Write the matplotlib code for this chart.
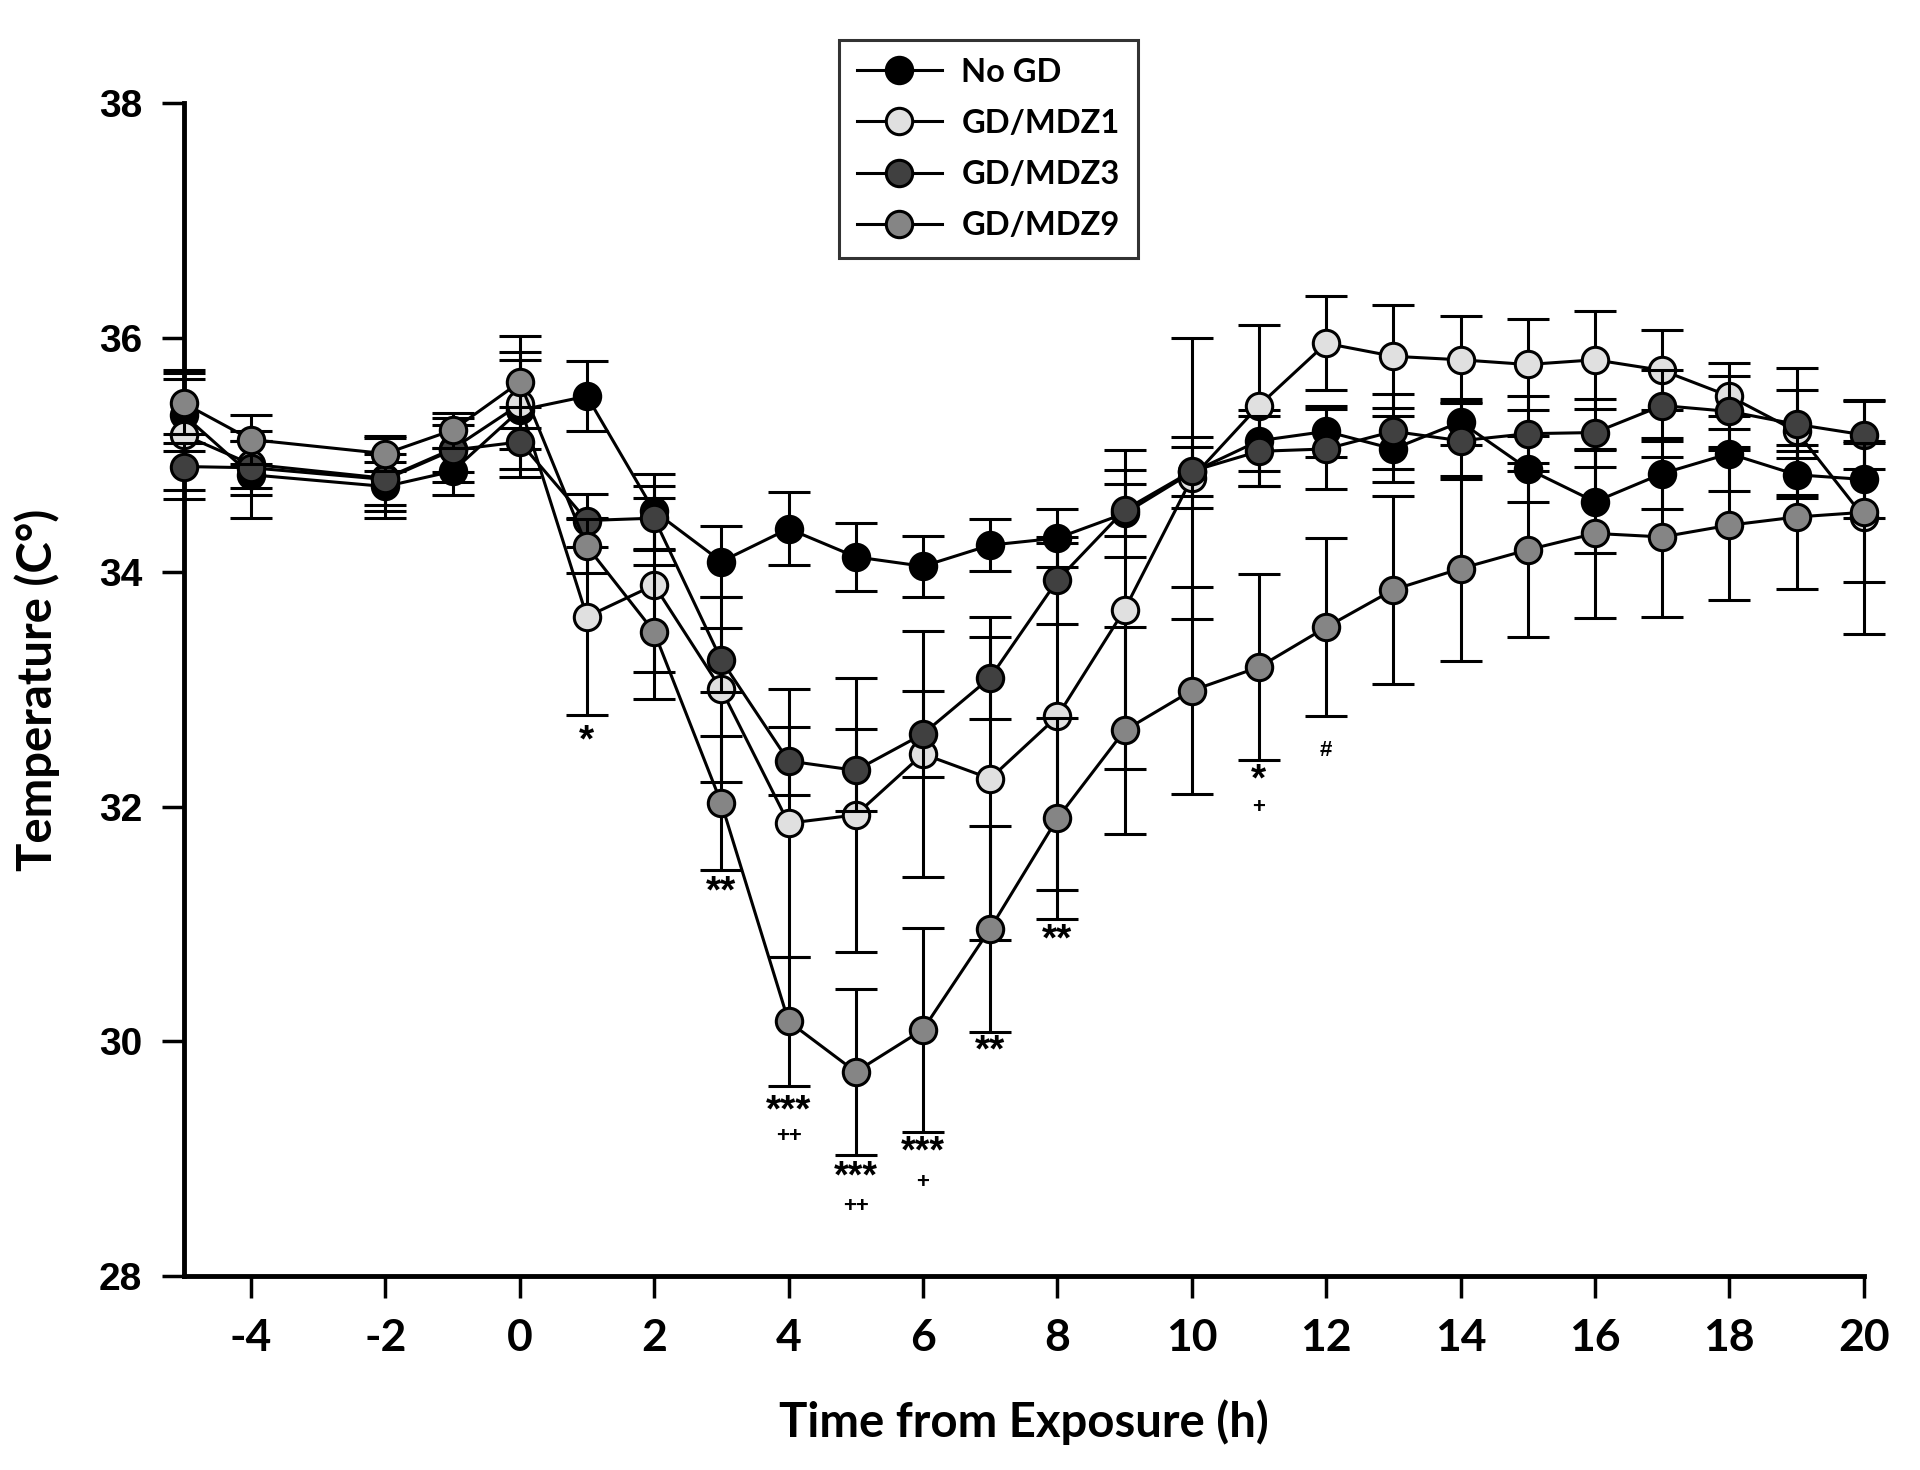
import matplotlib
matplotlib.use("Agg")
import matplotlib.pyplot as plt
import numpy as np

plt.rcParams["axes.unicode_minus"] = False

# time points (h); there is no -3 point in the source
hours = [-5, -4, -2, -1, 0, 1, 2, 3, 4, 5, 6, 7, 8, 9, 10, 11, 12, 13, 14, 15, 16, 17, 18, 19, 20]

no_gd = [35.34, 34.83, 34.73, 34.86, 35.38, 35.50, 34.52, 34.09, 34.37, 34.13, 34.05, 34.23, 34.29,
         34.50, 34.85, 35.12, 35.20, 35.05, 35.28, 34.88, 34.60, 34.84, 35.01, 34.83, 34.79]
no_gd_err = [0.31, 0.37, 0.21, 0.20, 0.50, 0.30, 0.32, 0.30, 0.31, 0.29, 0.26, 0.22, 0.25,
             0.37, 0.30, 0.26, 0.22, 0.28, 0.20, 0.28, 0.44, 0.30, 0.32, 0.20, 0.33]

mdz1 = [35.17, 34.92, 34.80, 35.05, 35.43, 33.62, 33.89, 33.00, 31.86, 31.93, 32.45, 32.24, 32.77,
        33.68, 34.80, 35.42, 35.95, 35.84, 35.81, 35.77, 35.81, 35.72, 35.50, 35.20, 34.47]
mdz1_err = [0.55, 0.20, 0.34, 0.20, 0.38, 0.84, 0.74, 0.79, 1.14, 1.17, 1.05, 1.38, 1.48,
            1.36, 1.20, 0.69, 0.40, 0.44, 0.37, 0.39, 0.42, 0.34, 0.28, 0.54, 1.00]

mdz3 = [34.90, 34.89, 34.79, 35.04, 35.11, 34.44, 34.46, 33.25, 32.39, 32.31, 32.62, 33.10, 33.93,
        34.53, 34.86, 35.03, 35.05, 35.20, 35.12, 35.18, 35.19, 35.42, 35.37, 35.26, 35.17]
mdz3_err = [0.20, 0.23, 0.22, 0.27, 0.30, 0.23, 0.27, 0.27, 0.29, 0.35, 0.37, 0.35, 0.37,
            0.22, 0.21, 0.30, 0.34, 0.32, 0.33, 0.32, 0.29, 0.30, 0.30, 0.29, 0.29]

mdz9 = [35.44, 35.13, 35.01, 35.21, 35.62, 34.22, 33.49, 32.03, 30.17, 29.74, 30.10, 30.96, 31.90,
        32.65, 32.99, 33.19, 33.53, 33.85, 34.03, 34.19, 34.33, 34.30, 34.40, 34.47, 34.51]
mdz9_err = [0.26, 0.21, 0.15, 0.15, 0.39, 0.23, 0.57, 0.57, 0.55, 0.71, 0.87, 0.88, 0.86,
            0.88, 0.88, 0.79, 0.76, 0.80, 0.79, 0.74, 0.72, 0.68, 0.64, 0.61, 0.59]

# significance marks: (text, x, y, size)
marks = [("*", 1, 32.56, 28), ("**", 3, 31.27, 28),
         ("***", 4, 29.40, 28), ("++", 4, 29.19, 16),
         ("***", 5, 28.84, 27), ("++", 5, 28.59, 16),
         ("***", 6, 29.05, 27), ("+", 6, 28.80, 16),
         ("**", 7, 29.91, 28), ("**", 8, 30.86, 28),
         ("*", 11, 32.22, 28), ("+", 11, 31.99, 16),
         ("#", 12, 32.48, 16)]

narrow = ["Lato", "DejaVu Sans"]

fig = plt.figure(figsize=(19.2, 14.7), dpi=100)
ax = fig.add_axes([0.0957, 0.132, 0.875, 0.798])

series = [("No GD", no_gd, no_gd_err, "#000000"),
          ("GD/MDZ1", mdz1, mdz1_err, "#e0e0e0"),
          ("GD/MDZ3", mdz3, mdz3_err, "#404040"),
          ("GD/MDZ9", mdz9, mdz9_err, "#858585")]

handles = []
for i, (name, y, err, col) in enumerate(series):
    eb = ax.errorbar(hours, y, yerr=err, color="black", lw=2.2, marker="o", ms=19,
                     mfc=col, mec="black", mew=2.2, elinewidth=2.2, capsize=15,
                     capthick=2.2, zorder=3 + i, label=name)
    parts = [eb.lines[0]] + list(eb.lines[1]) + list(eb.lines[2])
    for art in parts:
        art.set_clip_on(False)
    handles.append(eb)

for txt, x, y, size in marks:
    ax.text(x, y, txt, ha="center", va="center", fontsize=size, fontweight="bold",
            family=["Liberation Sans", "DejaVu Sans"])

ax.set_xlim(-5, 20)
ax.set_ylim(28, 38)
ax.set_xticks(np.arange(-4, 21, 2))
ax.set_yticks(np.arange(28, 39, 2))

for s in ["top", "right"]:
    ax.spines[s].set_visible(False)
for s in ["left", "bottom"]:
    ax.spines[s].set_linewidth(3.5)
ax.tick_params(direction="out", length=16, width=2.5, pad=14)

for lab in ax.get_xticklabels():
    lab.set_family(narrow)
    lab.set_fontweight("bold")
    lab.set_fontsize(32)
for lab in ax.get_yticklabels():
    lab.set_family(["Liberation Sans", "DejaVu Sans"])
    lab.set_fontweight("bold")
    lab.set_fontsize(28)

ax.set_xlabel("Time from Exposure (h)", fontsize=34, fontweight="bold", family=narrow, labelpad=30)
ax.set_ylabel("Temperature (C°)", fontsize=34, fontweight="bold", family=narrow, labelpad=28)

leg = fig.legend(handles=[h[0] for h in handles], labels=[s[0] for s in series],
                 loc="upper left", bbox_to_anchor=(0.437, 0.973), frameon=True, fancybox=False,
                 edgecolor="black", handlelength=2.6, handletextpad=0.6, labelspacing=0.68,
                 borderpad=0.55, borderaxespad=0.0,
                 prop={"family": ["Lato", "DejaVu Sans"], "weight": "bold", "size": 23.5})
leg.get_frame().set_linewidth(2.2)

fig.savefig("out.png", dpi=100)
